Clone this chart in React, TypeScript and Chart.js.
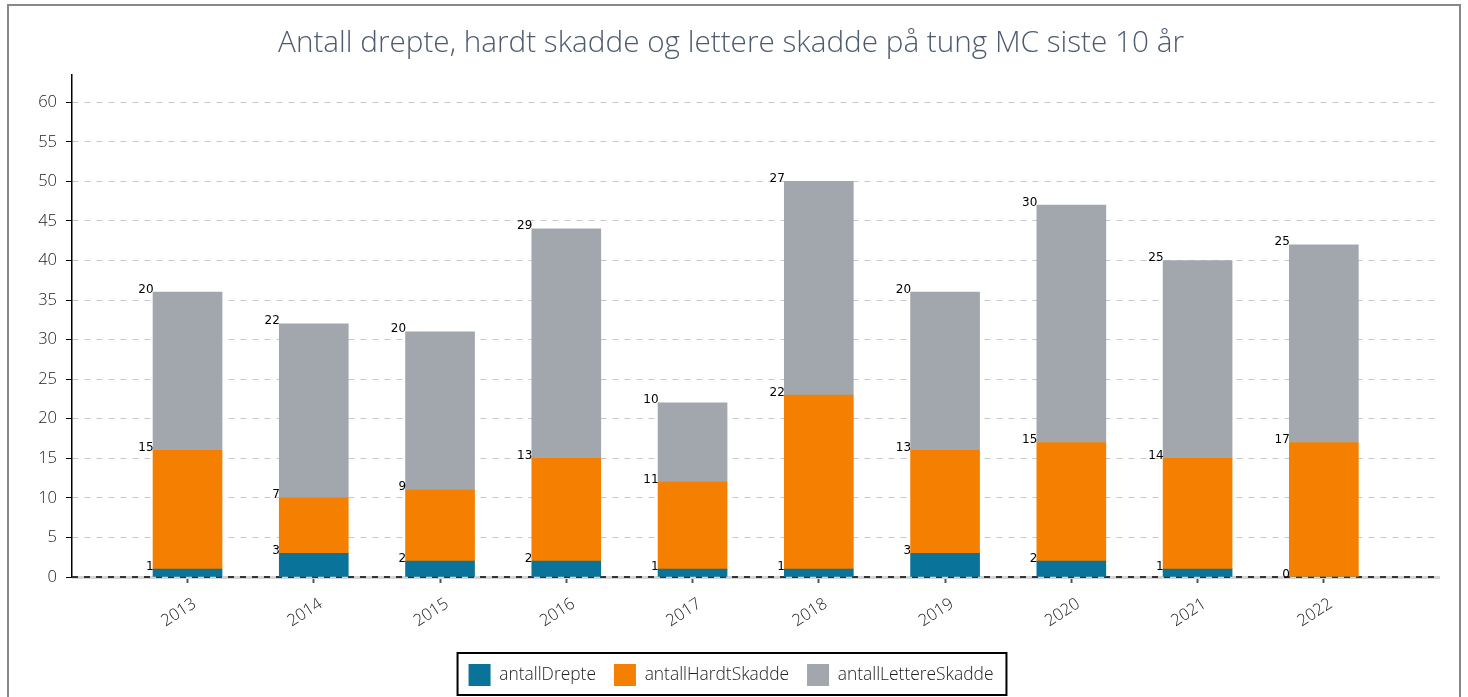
import React, { useEffect, useRef } from "react";
import { Chart, registerables } from "chart.js";

Chart.register(...registerables);

const years = ["2013", "2014", "2015", "2016", "2017", "2018", "2019", "2020", "2021", "2022"];
const antallDrepte = [1, 3, 2, 2, 1, 1, 3, 2, 1, 0];
const antallHardtSkadde = [15, 7, 9, 13, 11, 22, 13, 15, 14, 17];
const antallLettereSkadde = [20, 22, 20, 29, 10, 27, 20, 30, 25, 25];
const yTicks = [0, 5, 10, 15, 20, 25, 30, 35, 40, 45, 50, 55, 60];

const titleText = "Antall drepte, hardt skadde og lettere skadde på tung MC siste 10 år";

const toPoints = (arr: number[]) => arr.map((v, i) => ({ x: i, y: v }));

const labelPlugin = {
  id: "segLabels",
  afterDatasetsDraw(chart: any) {
    const ctx = chart.ctx;
    ctx.save();
    ctx.font = "12px 'DejaVu Sans'";
    ctx.fillStyle = "#000";
    ctx.textAlign = "right";
    ctx.textBaseline = "alphabetic";
    chart.data.datasets.forEach((ds: any, di: number) => {
      const meta = chart.getDatasetMeta(di);
      meta.data.forEach((bar: any, i: number) => {
        const v = ds.data[i].y;
        const left = bar.x - bar.width / 2;
        ctx.fillText(String(v), left + 0.5, bar.y + 0.5);
      });
    });
    ctx.restore();
  },
};

const zeroLinePlugin = {
  id: "zeroLine",
  beforeDatasetsDraw(chart: any) {
    const ctx = chart.ctx;
    const y = chart.scales.y.getPixelForValue(0);
    const { left, right } = chart.chartArea;
    ctx.save();
    ctx.strokeStyle = "#d4d4d4";
    ctx.lineWidth = 3;
    ctx.beginPath();
    ctx.moveTo(left, y + 0.5);
    ctx.lineTo(right, y + 0.5);
    ctx.stroke();
    ctx.strokeStyle = "#000";
    ctx.lineWidth = 1.5;
    ctx.setLineDash([6, 6]);
    ctx.beginPath();
    ctx.moveTo(left, y);
    ctx.lineTo(right, y);
    ctx.stroke();
    ctx.restore();
  },
};

const legendBoxPlugin = {
  id: "legendBox",
  afterDraw(chart: any) {
    const lg = chart.legend;
    if (!lg || !lg.legendHitBoxes || !lg.legendHitBoxes.length) return;
    const hb = lg.legendHitBoxes;
    let l = Infinity, r = -Infinity, t = Infinity, b = -Infinity;
    hb.forEach((h: any) => {
      l = Math.min(l, h.left);
      r = Math.max(r, h.left + h.width);
      t = Math.min(t, h.top);
      b = Math.max(b, h.top + h.height);
    });
    const ctx = chart.ctx;
    ctx.save();
    ctx.strokeStyle = "#000";
    ctx.lineWidth = 2;
    ctx.strokeRect(l - 11, t - 11, r - l + 24, b - t + 20);
    ctx.restore();
  },
};

export default function App() {
  const ref = useRef<HTMLCanvasElement | null>(null);
  useEffect(() => {
    if (!ref.current) return;
    const chart = new Chart(ref.current, {
      type: "bar",
      data: {
        datasets: [
          { label: "antallDrepte", data: toPoints(antallDrepte), backgroundColor: "#0a7399", barThickness: 69 },
          { label: "antallHardtSkadde", data: toPoints(antallHardtSkadde), backgroundColor: "#f57f00", barThickness: 69 },
          { label: "antallLettereSkadde", data: toPoints(antallLettereSkadde), backgroundColor: "#a2a6ad", barThickness: 69 },
        ],
      },
      options: {
        animation: false,
        responsive: false,
        maintainAspectRatio: false,
        layout: { padding: { left: 13, right: 19, top: 0, bottom: 1 } },
        plugins: {
          title: {
            display: true,
            text: titleText,
            color: "#4d5b70",
            font: { family: "'Open Sans'", size: 29.7, weight: "300" },
            padding: { top: 20, bottom: 13 },
          },
          legend: {
            position: "bottom",
            labels: {
              boxWidth: 22,
              boxHeight: 22,
              padding: 18,
              color: "#222",
              font: { family: "'Open Sans'", size: 17.4, weight: "300" },
            },
          },
          tooltip: { enabled: false },
        },
        scales: {
          x: {
            type: "linear",
            stacked: true,
            offset: false,
            min: -0.915,
            max: 9.92,
            afterBuildTicks: (scale: any) => {
              scale.ticks = years.map((_, i) => ({ value: i }));
            },
            afterFit: (scale: any) => {
              scale.height = 69;
            },
            ticks: {
              callback: (v: any) => years[v as number] ?? "",
              minRotation: 33,
              maxRotation: 33,
              autoSkip: false,
              color: "#1a1a1a",
              padding: 11,
              labelOffset: 7,
              font: { family: "'Open Sans'", size: 16.5, weight: "300" },
            },
            grid: { display: true, offset: false, drawOnChartArea: false, drawTicks: true, tickLength: 6, tickColor: "#555", tickWidth: 2 },
            border: { display: false },
          },
          y: {
            stacked: true,
            min: 0,
            max: 63.5,
            afterBuildTicks: (scale: any) => {
              scale.ticks = yTicks.map((v) => ({ value: v }));
            },
            afterFit: (scale: any) => {
              scale.width = 50;
            },
            ticks: {
              color: "#1a1a1a",
              padding: 9,
              font: { family: "'Open Sans'", size: 16.5, weight: "300" },
            },
            grid: {
              color: (c: any) => (c.tick && c.tick.value === 0 ? "rgba(0,0,0,0)" : "#c8c8c8"),
              lineWidth: 1,
              tickColor: "#000",
              tickLength: 6,
            },
            border: { display: true, color: "#000", width: 1.5, dash: [6, 6] },
          },
        },
      },
      plugins: [zeroLinePlugin, labelPlugin, legendBoxPlugin],
    } as any);
    return () => chart.destroy();
  }, []);
  return (
    <div
      style={{
        position: "absolute",
        left: 7,
        top: 4,
        width: 1454,
        height: 693,
        boxSizing: "border-box",
        borderTop: "2px solid #888",
        borderLeft: "2px solid #888",
        borderRight: "2px solid #888",
        overflow: "hidden",
        background: "#fff",
      }}
    >
      <canvas ref={ref} width={1450} height={691} style={{ display: "block" }} />
    </div>
  );
}
